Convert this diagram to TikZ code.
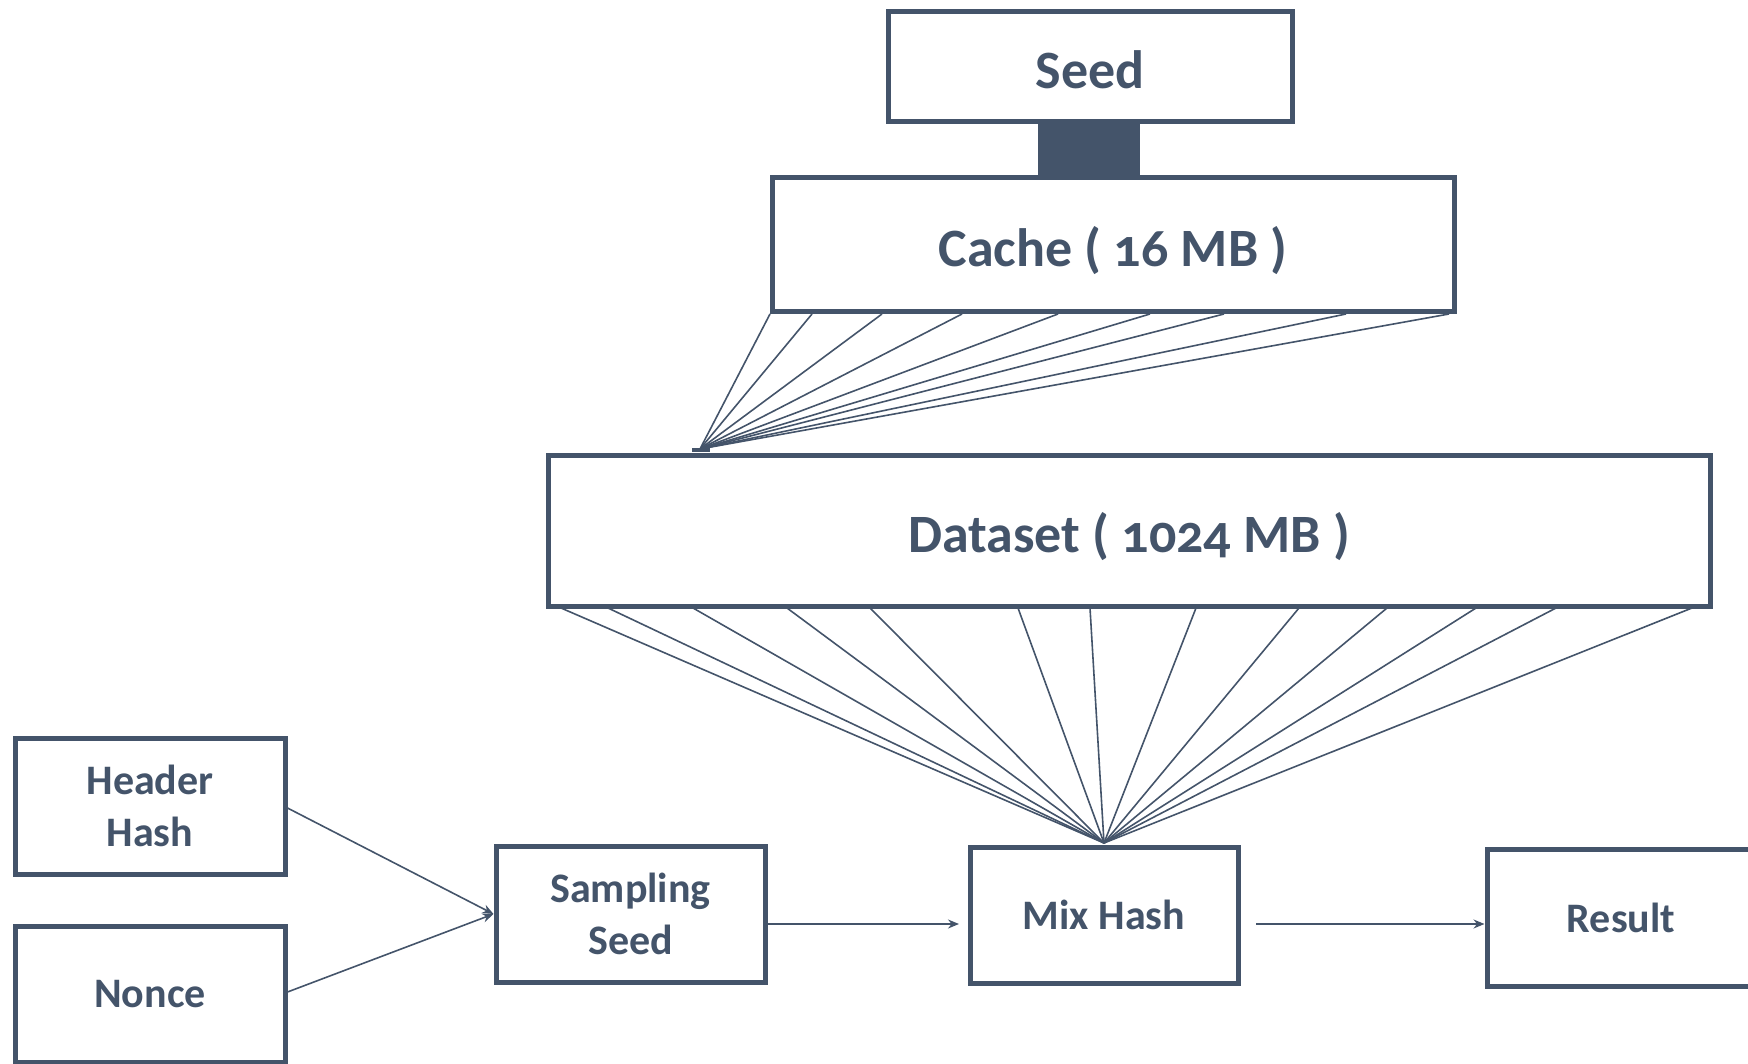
\documentclass[tikz,border=0pt]{standalone}
\usepackage{fontspec}
\setmainfont{Carlito}[Numbers=OldStyle]
\usetikzlibrary{arrows.meta}
\definecolor{slate}{HTML}{44546A}
\newcommand{\dn}[1]{\raisebox{-12pt}[30pt][10pt]{#1}}
\begin{document}
\begin{tikzpicture}[x=1pt,y=-1pt,
  box/.style={draw=slate,line width=5pt,inner sep=0pt,text=slate,font=\bfseries\fontsize{42}{52}\selectfont,align=center},
  bigbox/.style={box,font=\bfseries\fontsize{54}{64}\selectfont},
  fan/.style={draw=slate,line width=1.6pt},
  arr/.style={draw=slate,line width=1.6pt,-{Stealth[length=11pt,width=9pt]}}]
\useasboundingbox (0,0) rectangle (1748,1064);
\clip (0,0) rectangle (1748,1064);
\node[bigbox,minimum width=404pt,minimum height=110pt] (seed) at (1090,67) {\dn{Seed}};
\node[bigbox,minimum width=682pt,minimum height=134pt] (cache) at (1113,245) {\dn{Cache ( 16 MB )}};
\node[bigbox,minimum width=1162pt,minimum height=151pt] (data) at (1129,530.5) {\dn{Dataset ( 1024 MB )}};
\fill[slate] (1038,124.5) rectangle (1140,175.5);
\node[box,minimum width=270pt,minimum height=136pt] (hh) at (150,806) {Header\\Hash};
\node[box,minimum width=270pt,minimum height=136pt] (nonce) at (150,994) {Nonce};
\node[box,minimum width=269pt,minimum height=136pt] (ss) at (630.5,914) {Sampling\\Seed};
\node[box,minimum width=268pt,minimum height=136pt] (mix) at (1104,915) {Mix Hash};
\node[box,minimum width=268pt,minimum height=137pt] (res) at (1621,917.5) {Result};
\coordinate (cfan) at (700,449);
\coordinate (mfan) at (1104,843);
\foreach \x in {770,812,882,962,1058,1150,1224,1346,1449}
  \draw[fan] (\x,314) -- (cfan);
\draw[slate,line width=4pt] (692,450) -- (710,450);
\foreach \x in {561,608,693,787,870,1018,1090,1196,1299,1387,1476,1556,1692}
  \draw[fan] (\x,608) -- (mfan);
\draw[arr] (hh.east |- 0,808) -- (ss.west |- 0,914);
\draw[arr] (nonce.east |- 0,992) -- (ss.west |- 0,914);
\draw[arr] (ss.east |- 0,924) -- (959,924);
\draw[arr] (1256,924) -- (res.west |- 0,924);
\end{tikzpicture}
\end{document}
